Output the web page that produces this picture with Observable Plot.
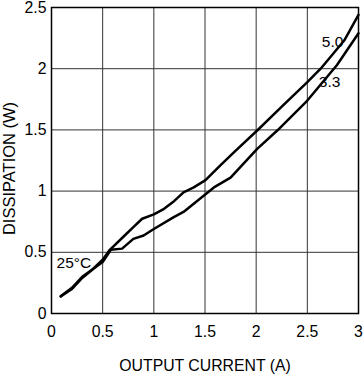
<!DOCTYPE html>
<html><head><meta charset="utf-8">
<script src="https://cdn.jsdelivr.net/npm/d3@7"></script>
<script src="https://cdn.jsdelivr.net/npm/@observablehq/plot@0.6"></script>
<style>body{margin:0;background:#fff}</style>
</head><body><div id="chart"></div>
<script>
const xTicks = [0, 0.5, 1, 1.5, 2, 2.5, 3];
const yTicks = [0, 0.5, 1, 1.5, 2, 2.5];
const s50x = [0.09,0.2,0.3,0.4,0.5,0.57,0.7,0.8,0.886,1.0,1.1,1.2,1.29,1.39,1.505,1.65,1.8,2.01,2.25,2.5,2.63,2.86,3.0];
const s50y = [0.14,0.2,0.29,0.36,0.44,0.52,0.625,0.705,0.774,0.81,0.855,0.92,0.99,1.03,1.09,1.21,1.33,1.495,1.69,1.89,2.0,2.23,2.44];
const s33x = [0.09,0.2,0.3,0.4,0.5,0.58,0.69,0.8,0.9,1.0,1.195,1.29,1.39,1.587,1.75,2.01,2.206,2.5,2.79,3.0];
const s33y = [0.14,0.21,0.3,0.36,0.42,0.52,0.53,0.61,0.637,0.69,0.787,0.83,0.896,1.03,1.11,1.345,1.495,1.74,2.03,2.29];
const labels = ["5.0", "3.3", "25°C"];
const labelX = [2.747, 2.717, 0.05];
const labelY = [2.214, 1.887, 0.41];
const labelAnchor = ["middle", "middle", "start"];

const series = [
  ...s50x.map((x, i) => ({x, y: s50y[i], s: "5.0"})),
  ...s33x.map((x, i) => ({x, y: s33y[i], s: "3.3"}))
];
const ann = labels.map((t, i) => ({t, x: labelX[i], y: labelY[i], a: labelAnchor[i]}));

const chart = Plot.plot({
  width: 364, height: 374,
  marginLeft: 51, marginRight: 6, marginTop: 7, marginBottom: 61,
  style: {fontFamily: "'Liberation Sans', Arial, sans-serif", fontSize: "15.5px", color: "#000", background: "#fff"},
  x: {domain: [0, 3]},
  y: {domain: [0, 2.5]},
  marks: [
    Plot.gridX(xTicks, {stroke: "#333", strokeOpacity: 1, strokeWidth: 1}),
    Plot.gridY(yTicks, {stroke: "#333", strokeOpacity: 1, strokeWidth: 1}),
    Plot.frame({stroke: "#000", strokeWidth: 1.5}),
    Plot.axisX(xTicks, {tickSize: 0, tickPadding: 12, tickFormat: d => String(d), fontSize: 15.8,
      label: "OUTPUT CURRENT (A)", labelAnchor: "center", labelArrow: "none", labelOffset: 57}),
    Plot.axisY(yTicks, {tickSize: 0, tickPadding: 5, tickFormat: d => String(d), fontSize: 15.8,
      label: "DISSIPATION (W)", labelAnchor: "center", labelArrow: "none", labelOffset: 48.5}),
    Plot.line(series, {x: "x", y: "y", z: "s", stroke: "#000", strokeWidth: 2.5, curve: "linear"}),
    Plot.text(ann.filter(d => d.a === "middle"), {x: "x", y: "y", text: "t", fontSize: 15.5, fill: "#000", textAnchor: "middle"}),
    Plot.text(ann.filter(d => d.a === "start"), {x: "x", y: "y", text: "t", fontSize: 15.5, fill: "#000", textAnchor: "start"})
  ]
});
chart.querySelectorAll("[aria-label='y-axis label'] text").forEach(e => { e.setAttribute("font-size", "16.5"); e.setAttribute("dx", "-8"); });
document.getElementById("chart").appendChild(chart);
</script></body></html>
